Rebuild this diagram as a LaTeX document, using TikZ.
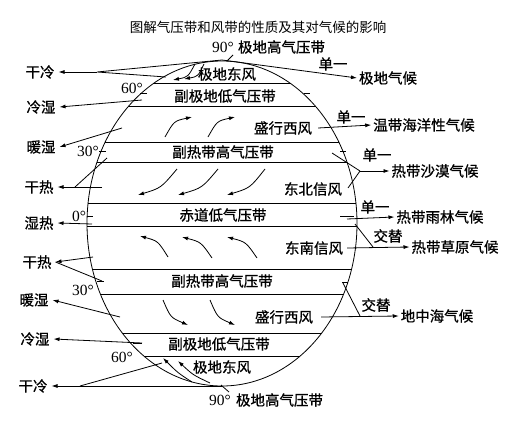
\documentclass[tikz,border=0pt]{standalone}
\usepackage{fontspec}
\setmainfont{Liberation Serif}
\newfontfamily\cjk{Noto Sans CJK SC}
\newfontfamily\cjkb[FakeBold=0.8]{Noto Sans CJK SC}
\usetikzlibrary{arrows.meta}
\begin{document}
\begin{tikzpicture}[x=1pt,y=-1pt,
  lab/.style={font=\cjkb\fontsize{14.5}{16}\selectfont, inner sep=0pt},
  llab/.style={lab, outer sep=4pt},
  rlab/.style={lab, outer sep=2pt},
  ttl/.style={font=\cjk\fontsize{13.5}{15}\selectfont, inner sep=0pt},
  num/.style={font=\fontsize{15.5}{16}\selectfont, inner sep=0pt},
  ln/.style={line width=0.8pt},
  arr/.style={ln,-{Latex[length=6pt,width=4pt]}},
]
\useasboundingbox (0,0) rectangle (511,439);

% title
\node[ttl] (title) at (258,27) {图解气压带和风带的性质及其对气候的影响};

% globe
\draw[ln] (222,223.5) ellipse [x radius=135, y radius=162.5];
\begin{scope}
  \clip (222,223.5) ellipse [x radius=135, y radius=162.5];
  \foreach \yy in {83,106,142,162,203,226,269,294,333,356}
    \draw[ln] (80,\yy) -- (370,\yy);
\end{scope}

% belt labels
\node[num,anchor=west] (n90) at (212,47) {90°};
\node[lab] (nph) at (281.5,47) {极地高气压带};
\node[lab] (npe) at (227,74) {极地东风};
\node[lab] (nspl) at (225,96) {副极地低气压带};
\node[lab] (nwest) at (283,128) {盛行西风};
\node[lab] (nsth) at (223,152) {副热带高气压带};
\node[lab] (netr) at (313,189) {东北信风};
\node[lab] (eql) at (223,215) {赤道低气压带};
\node[lab] (setr) at (314,248) {东南信风};
\node[lab] (ssth) at (222,281) {副热带高气压带};
\node[lab] (swest) at (284,317) {盛行西风};
\node[lab] (sspl) at (219,344) {副极地低气压带};
\node[lab] (spe) at (222,367) {极地东风};
\node[num,anchor=west] (s90) at (209,400) {90°};
\node[lab] (sph) at (279.5,400) {极地高气压带};

% latitude labels
\node[num] (d60n) at (132,88) {60°};
\node[num] (d30n) at (88,151) {30°};
\node[num] (d0) at (79,216) {0°};
\node[num] (d30s) at (83,290) {30°};
\node[num] (d60s) at (122,357) {60°};

% ticks
\draw[ln] (140,93) -- (147,93);
\draw[ln] (304,93) -- (310,93);
\draw[ln] (99,151) -- (106,151);
\draw[ln] (340,151) -- (346,151);
\draw[ln] (87,216) -- (93,216);
\draw[ln] (340,216) -- (354,216);
\draw[ln] (97,281) -- (104,281);
\draw[ln] (342,282) -- (348,282);
\draw[ln] (133,343) -- (142,343);

% left labels
\node[llab] (l1) at (40,72) {干冷};
\node[llab] (l2) at (41,107) {冷湿};
\node[llab] (l3) at (41,147) {暖湿};
\node[llab] (l4) at (39,187) {干热};
\node[llab] (l5) at (39,223) {湿热};
\node[llab] (l6) at (37,262) {干热};
\node[llab] (l7) at (34,300) {暖湿};
\node[llab] (l8) at (35,339) {冷湿};
\node[llab] (l9) at (33,386) {干冷};

% right labels
\node[lab] (r1a) at (333,64) {单一};
\node[rlab] (r1) at (388,78) {极地气候};
\node[lab] (r2a) at (351,117) {单一};
\node[rlab] (r2) at (424,125) {温带海洋性气候};
\node[lab] (r3a) at (377,155) {单一};
\node[rlab] (r3) at (435,171) {热带沙漠气候};
\node[lab] (r4a) at (375,207) {单一};
\node[rlab] (r4) at (440,217) {热带雨林气候};
\node[lab] (r5a) at (388,236) {交替};
\node[rlab] (r5) at (455,247) {热带草原气候};
\node[lab] (r6a) at (376,305) {交替};
\node[rlab] (r6) at (437,316) {地中海气候};

% coordinates
\coordinate (apexT) at (222,60);
\coordinate (apexB) at (222,386);
\coordinate (c1) at (97,72);
\coordinate (pe1) at (166,77);
\coordinate (p2) at (142,100);
\coordinate (p3) at (122,128);
\coordinate (c4) at (75,187);
\coordinate (p4a) at (102,187);
\coordinate (p4b) at (107,158);
\coordinate (p5) at (92,224);
\coordinate (p6a) at (93,257);
\coordinate (p6b) at (102,281);
\coordinate (p7) at (120,317);
\coordinate (p8) at (142,343);
\coordinate (c9) at (80,386);
\coordinate (p9) at (162,363);
\coordinate (t1) at (332,153);
\coordinate (t2) at (348,188);
\coordinate (t3) at (360,171);
\coordinate (q1) at (347,219);
\coordinate (u1) at (355,224);
\coordinate (u2) at (373,247);
\coordinate (v1) at (343,283);
\coordinate (v2) at (360,316);

% left connectors
\draw[arr] (c1) -- (l1.east);
\draw[ln] (pe1) -- (c1) -- (apexT);
\draw[arr] (apexT) -- (r1.west);
\draw[arr] (p2) -- (l2.east);
\draw[arr] (p3) -- (l3.east);
\draw[arr] (p4a) -- (l4.east);
\draw[ln] (p4b) -- (c4);
\draw[arr] (p5) -- (l5.east);
\draw[arr] (p6a) -- (l6.east);
\draw[ln] (p6b) -- (l6.east);
\draw[arr] (p7) -- (l7.east);
\draw[arr] (p8) -- (l8.east);
\draw[arr] (apexB) -- (l9.east);
\draw[ln] (p9) -- (c9);

% pole leaders
\draw[ln] (233,55) -- (227,61);
\draw[ln] (221,385) -- (229,392);

% right connectors
\draw[arr] ([xshift=6pt]nwest.east) -- (r2.west);
\draw[ln] (t1) -- (t3);
\draw[ln] (t2) -- (t3);
\draw[arr] (t3) -- (r3.west);
\draw[arr] (q1) -- (r4.west);
\draw[arr] ([xshift=4pt]setr.east) -- (r5.west);
\draw[ln] (u1) -- (u2);
\draw[arr] ([xshift=8pt]swest.east) -- (r6.west);
\draw[ln] (v1) -- (v2);

% wind arrows
\draw[arr] (195,64) .. controls (188,77) .. (173,80);
\draw[arr] (204,64) .. controls (198,76.5) .. (184,79);
\draw[arr] (165,137) .. controls (174,121) .. (192,117);
\draw[arr] (208,137) .. controls (217,121) .. (235,117);
\draw[arr] (177,169) .. controls (161,188) .. (138,195);
\draw[arr] (218,169) .. controls (202,188) .. (178,195);
\draw[arr] (265,169) .. controls (250,188) .. (227,195);
\draw[arr] (168,257) .. controls (158,241) .. (140,236);
\draw[arr] (212,258) .. controls (201,242) .. (182,237);
\draw[arr] (257,258) .. controls (246,242) .. (227,237);
\draw[arr] (163,300) .. controls (170.5,317.5) .. (188,325);
\draw[arr] (210,300) .. controls (217.5,317.5) .. (235,325);
\draw[arr] (192,382) .. controls (178,373) .. (163,358);
\draw[arr] (210,383) .. controls (193,375) .. (178,361);
\end{tikzpicture}
\end{document}
